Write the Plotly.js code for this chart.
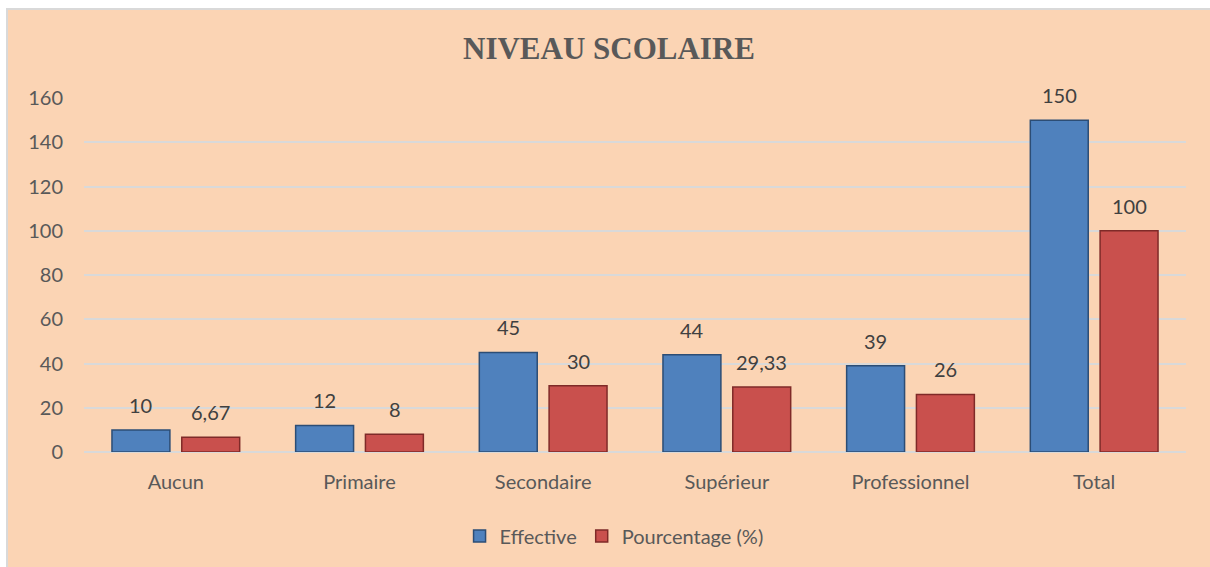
<!DOCTYPE html>
<html>
<head>
<meta charset="utf-8">
<script src="https://cdn.plot.ly/plotly-3.0.1.min.js"></script>
<style>
  html, body { margin: 0; padding: 0; background: #ffffff; width: 1210px; height: 567px; overflow: hidden; }
  #chart { position: absolute; left: 6px; top: 8px; border-left: 2px solid #d9d9d9; border-top: 2px solid #d9d9d9; }
</style>
</head>
<body>
<div id="chart"></div>
<script>
const categories = ["Aucun", "Primaire", "Secondaire", "Supérieur", "Professionnel", "Total"];
const effective = [10, 12, 45, 44, 39, 150];
const pourcentage = [6.67, 8, 30, 29.33, 26, 100];
const yTicks = [0, 20, 40, 60, 80, 100, 120, 140, 160];

const fmt = v => String(v).replace('.', ',');

const labelFont = { family: "Lato, 'Open Sans', sans-serif", size: 20, color: "#404040" };

const traces = [
  {
    type: "bar", name: "Effective", x: categories, y: effective,
    marker: { color: "#4f81bd", line: { color: "#2c4d75", width: 1.5 } },
    hoverinfo: "x+y"
  },
  {
    type: "bar", name: "Pourcentage (%)", x: categories, y: pourcentage,
    marker: { color: "#c9504d", line: { color: "#7f2a28", width: 1.5 } },
    hoverinfo: "x+y"
  }
];

// Data labels, placed by the axes at each bar's value (offset to the bar's slot in the group)
const annotations = [];
const series = [[effective, -35], [pourcentage, 35]];
series.forEach(([vals, dx]) => {
  vals.forEach((v, i) => {
    annotations.push({
      x: categories[i], y: v, xref: "x", yref: "y",
      text: fmt(v), showarrow: false, font: labelFont,
      xanchor: "center", yanchor: "bottom", xshift: dx, yshift: 11
    });
  });
});

const layout = {
  width: 1202, height: 557,
  paper_bgcolor: "#fbd4b4", plot_bgcolor: "#fbd4b4",
  margin: { l: 76, r: 24, t: 88, b: 115, autoexpand: false },
  font: { family: "Lato, 'Open Sans', sans-serif", size: 20, color: "#595959" },
  title: {
    text: "NIVEAU SCOLAIRE",
    font: { family: "'Liberation Serif', 'Times New Roman', serif", size: 31, color: "#595959", weight: "bold" },
    x: 0.5, xanchor: "center", xref: "container",
    y: 1 - 38 / 557, yanchor: "middle", yref: "container"
  },
  barmode: "group", bargap: 0.24, bargroupgap: 0.17,
  xaxis: {
    type: "category", showgrid: false, zeroline: false, showline: false,
    ticks: "", ticklabelstandoff: 16, tickangle: 0,
    tickfont: { size: 20, color: "#595959" }
  },
  yaxis: {
    range: [0, 160], tickvals: yTicks, ticktext: yTicks.map(String),
    showgrid: true, gridcolor: "#d9d9d9", gridwidth: 2,
    zeroline: true, zerolinecolor: "#d9d9d9", zerolinewidth: 2,
    showline: false, ticks: "", ticklabelstandoff: 20,
    tickfont: { size: 20, color: "#595959" }
  },
  annotations: annotations,
  showlegend: true,
  legend: {
    orientation: "h", x: 0.481, xanchor: "center", y: -0.237, yanchor: "middle",
    font: { size: 20, color: "#595959" }, bgcolor: "rgba(0,0,0,0)", traceorder: "normal",
    itemwidth: 30
  }
};

Plotly.newPlot("chart", traces, layout, { displayModeBar: false, staticPlot: true });
</script>
</body>
</html>
